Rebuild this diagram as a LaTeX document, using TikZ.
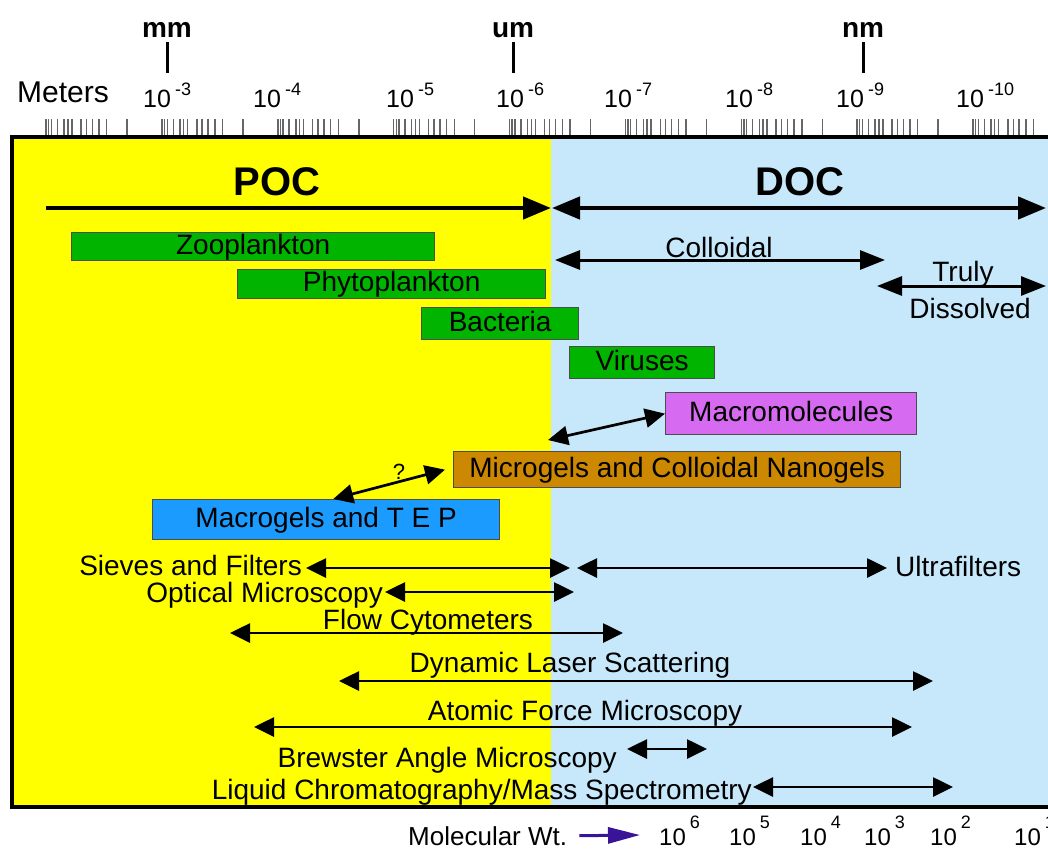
\documentclass[tikz,border=0pt]{standalone}
\usepackage{fontspec}
\setmainfont{Liberation Sans}
\usepackage{xcolor}
\usepackage{tikz}
\usetikzlibrary{arrows.meta}

\definecolor{pocyellow}{RGB}{255,255,0}
\definecolor{docblue}{RGB}{198,232,250}
\definecolor{orggreen}{RGB}{0,180,0}
\definecolor{macropink}{RGB}{214,106,240}
\definecolor{gelgold}{RGB}{204,136,0}
\definecolor{tepblue}{RGB}{28,155,255}
\definecolor{mwpurple}{RGB}{58,20,150}

% 十的幂次
\newcommand{\pten}[2][12pt]{10\,\raisebox{#1}{\fontsize{18}{20}\selectfont #2}}

\tikzset{
  sizebox/.style={draw=black!70, line width=1.3pt, anchor=north west, inner sep=0pt,
                  text height=20pt, text depth=5pt},
  lbl/.style={inner sep=0pt, anchor=base},
  decade/.style={inner sep=0pt, anchor=base west, font=\fontsize{25}{27}\selectfont},
  unitlbl/.style={inner sep=0pt, anchor=base, font=\bfseries\fontsize{28}{30}\selectfont},
  bigspan/.style={line width=4.5pt, {Triangle[length=28pt,width=22pt]}-{Triangle[length=28pt,width=22pt]}},
  midspan/.style={line width=3pt, {Triangle[length=25pt,width=19pt]}-{Triangle[length=25pt,width=19pt]}},
  spanarrow/.style={line width=2.7pt, {Triangle[length=20pt,width=19pt]}-{Triangle[length=20pt,width=19pt]}},
  logtick/.style={line width=1.4pt, black!60},
}

\begin{document}
\begin{tikzpicture}[x=1pt,y=-1pt,font=\fontsize{28}{32}\selectfont]
  % 画布
  \useasboundingbox (0,0) rectangle (1048,855);
  \clip (0,0) rectangle (1048,855);

  % POC 与 DOC 两区
  \fill[pocyellow] (12,137) rectangle (551,807);
  \fill[docblue] (551,137) rectangle (1070,807);
  \draw[line width=4pt] (12,137) rectangle (1070,807);

  % 顶部尺度
  \foreach \d in {-1,...,7}
    \foreach \k in {10,9.5,9,8,7,6.5,6,5,4.5,4,3.5,3,2}
      \draw[logtick] ({162+115.86*(\d+1-log10(\k))},119) -- ++(0,16);
  \node[lbl, anchor=base west, font=\fontsize{30}{32}\selectfont] (meters) at (17,102) {Meters};
  \node[decade] (e3) at (143,107) {\pten{-3}};
  \node[decade] (e4) at (253,107) {\pten{-4}};
  \node[decade] (e5) at (386,107) {\pten{-5}};
  \node[decade] (e6) at (496,107) {\pten{-6}};
  \node[decade] (e7) at (604,107) {\pten{-7}};
  \node[decade] (e8) at (725,107) {\pten{-8}};
  \node[decade] (e9) at (836,107) {\pten{-9}};
  \node[decade] (e10) at (956,107) {\pten{-10}};
  \node[unitlbl] (mm) at (167,37) {mm};
  \node[unitlbl] (um) at (513,37) {um};
  \node[unitlbl] (nm) at (863,37) {nm};
  \draw[line width=3pt] ([yshift=-5pt]mm.south) -- ++(0,31);
  \draw[line width=3pt] ([yshift=-5pt]um.south) -- ++(0,31);
  \draw[line width=3pt] ([yshift=-5pt]nm.south) -- ++(0,31);

  % POC / DOC 标题与箭头
  \node[lbl, font=\bfseries\fontsize{40}{42}\selectfont] (poc) at (277,195) {POC};
  \node[lbl, font=\bfseries\fontsize{40}{42}\selectfont] (doc) at (800,195) {DOC};
  \coordinate (pocL) at (46,208);
  \coordinate (split) at (551,208);
  \coordinate (docR) at (1046,208);
  \draw[line width=4.5pt, -{Triangle[length=28pt,width=22pt]}] (pocL) -- (split);
  \draw[bigspan] ([xshift=1pt]split) -- (docR);

  % 胶体与真溶解
  \coordinate (colL) at (555,260);
  \coordinate (colR) at (885,260);
  \draw[midspan] (colL) -- (colR);
  \node[lbl] (colloid) at (719,257) {Colloidal};
  \coordinate (truL) at (877,286);
  \coordinate (truR) at (1046,286);
  \draw[midspan] (truL) -- (truR);
  \node[lbl] (truly) at (963,281) {Truly};
  \node[lbl] (dissolved) at (970,318) {Dissolved};

  % 各类颗粒
  \node[sizebox, fill=orggreen, minimum width=363, minimum height=28] (zoo) at (71,232) {Zooplankton};
  \node[sizebox, fill=orggreen, minimum width=308, minimum height=29] (phyto) at (237,269) {Phytoplankton};
  \node[sizebox, fill=orggreen, minimum width=157, minimum height=32] (bact) at (421,307) {Bacteria};
  \node[sizebox, fill=orggreen, minimum width=145, minimum height=32] (virus) at (569,346) {Viruses};
  \node[sizebox, fill=macropink, minimum width=251, minimum height=42] (macro) at (665,392) {Macromolecules};
  \node[sizebox, fill=gelgold, minimum width=447, minimum height=36] (micro) at (453,451) {Microgels and Colloidal Nanogels};
  \node[sizebox, fill=tepblue, minimum width=347, minimum height=40] (tep) at (152,499) {Macrogels and T E P};

  % 凝胶之间的转化
  \coordinate (macroEnd) at (548,440);
  \draw[spanarrow] (macro.west) -- (macroEnd);
  \draw[spanarrow] ([xshift=7pt]tep.north) -- ([xshift=-8pt]micro.west);
  \node[lbl, font=\fontsize{22}{24}\selectfont] (ask) at (399,479) {?};

  % 测量方法
  \node[lbl, anchor=base east] (sieves) at (302,575) {Sieves and Filters};
  \coordinate (sievesL) at (306,568);
  \coordinate (sievesR) at (570,568);
  \draw[spanarrow] (sievesL) -- (sievesR);
  \coordinate (ultraL) at (577,568);
  \coordinate (ultraR) at (887,568);
  \draw[spanarrow] (ultraL) -- (ultraR);
  \node[lbl, anchor=base west] (ultra) at (895,576) {Ultrafilters};

  \node[lbl, anchor=base east] (optical) at (383,602) {Optical Microscopy};
  \coordinate (optL) at (385,592);
  \coordinate (optR) at (574,592);
  \draw[spanarrow] (optL) -- (optR);

  \node[lbl] (flow) at (428,629) {Flow Cytometers};
  \coordinate (flowL) at (230,633);
  \coordinate (flowR) at (623,633);
  \draw[spanarrow] (flowL) -- (flowR);

  \node[lbl] (dls) at (570,672) {Dynamic Laser Scattering};
  \coordinate (dlsL) at (339,681);
  \coordinate (dlsR) at (933,681);
  \draw[spanarrow] (dlsL) -- (dlsR);

  \node[lbl] (afm) at (585,720) {Atomic Force Microscopy};
  \coordinate (afmL) at (254,727);
  \coordinate (afmR) at (912,727);
  \draw[spanarrow] (afmL) -- (afmR);

  \node[lbl, anchor=base east] (bam) at (617,767) {Brewster Angle Microscopy};
  \coordinate (bamL) at (627,749);
  \coordinate (bamR) at (707,749);
  \draw[spanarrow] (bamL) -- (bamR);

  \node[lbl, anchor=base east] (lcms) at (752,799) {Liquid Chromatography/Mass Spectrometry};
  \coordinate (lcL) at (753,787);
  \coordinate (lcR) at (953,787);
  \draw[spanarrow] (lcL) -- (lcR);

  % 分子量
  \node[lbl, anchor=base west, font=\fontsize{26}{28}\selectfont] (mw) at (408,845) {Molecular Wt.};
  \coordinate (mwTip) at (640,835);
  \draw[mwpurple, line width=3pt, -{Triangle[length=32pt,width=16pt]}] ([xshift=12pt]mw.east) -- (mwTip);
  \node[decade, font=\fontsize{24}{26}\selectfont] (m6) at (659,845) {\pten[17pt]{6}};
  \node[decade, font=\fontsize{24}{26}\selectfont] (m5) at (729,845) {\pten[17pt]{5}};
  \node[decade, font=\fontsize{24}{26}\selectfont] (m4) at (800,845) {\pten[17pt]{4}};
  \node[decade, font=\fontsize{24}{26}\selectfont] (m3) at (864,845) {\pten[17pt]{3}};
  \node[decade, font=\fontsize{24}{26}\selectfont] (m2) at (930,845) {\pten[17pt]{2}};
  \node[decade, font=\fontsize{24}{26}\selectfont] (m1) at (1014,845) {\pten[17pt]{1}};
\end{tikzpicture}
\end{document}
